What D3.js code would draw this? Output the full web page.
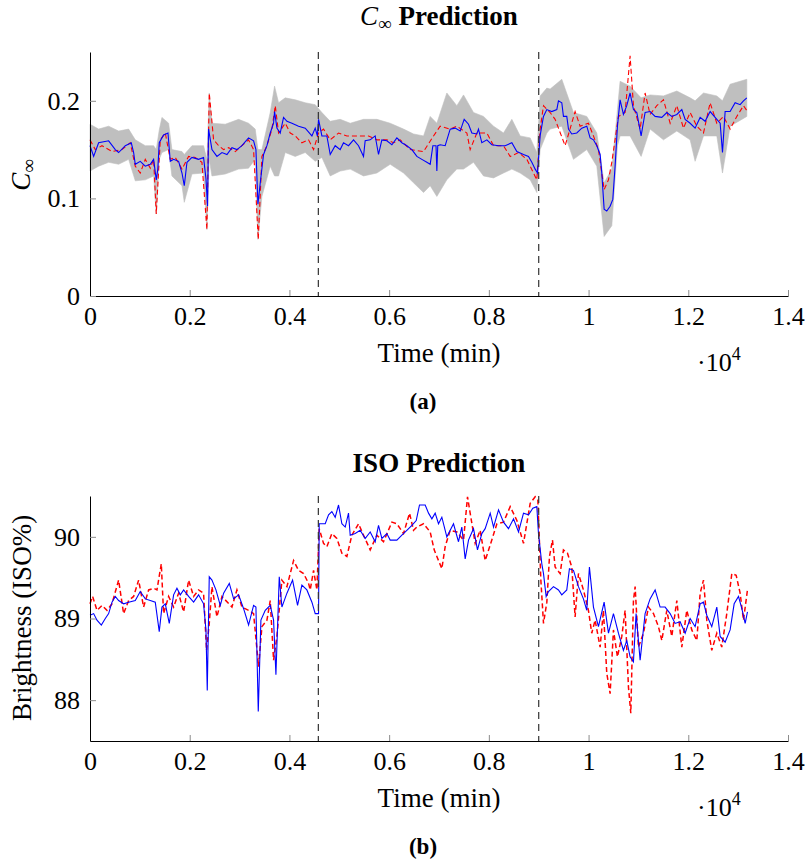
<!DOCTYPE html>
<html>
<head>
<meta charset="utf-8">
<script src="https://cdn.jsdelivr.net/npm/d3@7"></script>
<style>
  body { margin: 0; background: #fff; }
  svg, svg text, svg tspan { font-family: "Liberation Serif", "Times New Roman", serif !important; }
  svg text { fill: #000; }
  .axis .domain { stroke: #000; stroke-width: 1; }
  .axis .tick line { stroke: #8c8c8c; stroke-width: 1; }
  .axis .tick text { font-size: 26px; }
</style>
</head>
<body>
<svg width="808" height="861"></svg>
<script>
// ---- data (time in minutes) ----
var switchTimes = [4580, 9000];

var xTicks = [0, 2000, 4000, 6000, 8000, 10000, 12000, 14000];
var xTickLabels = ["0", "0.2", "0.4", "0.6", "0.8", "1", "1.2", "1.4"];
var cinfTicks = [0, 0.1, 0.2];
var cinfTickLabels = ["0", "0.1", "0.2"];
var isoTicks = [88, 89, 90];
var isoTickLabels = ["88", "89", "90"];

// C-infinity: grey band [t, lower, upper]
var cinfBand = [[0,0.128,0.176],[173,0.133,0.171],[374,0.137,0.174],[574,0.135,0.169],[775,0.140,0.171],[908,0.118,0.160],[1109,0.119,0.154],[1276,0.123,0.154],[1329,0.084,0.150],[1389,0.140,0.170],[1443,0.147,0.183],[1577,0.150,0.177],[1643,0.123,0.150],[1845,0.113,0.148],[1891,0.096,0.145],[2045,0.125,0.154],[2278,0.126,0.154],[2345,0.068,0.140],[2392,0.140,0.208],[2446,0.123,0.177],[2713,0.125,0.176],[2981,0.130,0.181],[3180,0.131,0.177],[3314,0.140,0.171],[3368,0.058,0.150],[3448,0.102,0.150],[3615,0.133,0.188],[3702,0.123,0.215],[3782,0.123,0.198],[3916,0.147,0.203],[4116,0.143,0.201],[4317,0.147,0.198],[4517,0.138,0.196],[4651,0.142,0.188],[4818,0.123,0.179],[5018,0.128,0.181],[5219,0.130,0.177],[5486,0.123,0.181],[5754,0.126,0.181],[6021,0.135,0.177],[6289,0.126,0.171],[6489,0.116,0.166],[6690,0.106,0.164],[6823,0.113,0.184],[6957,0.102,0.177],[7157,0.119,0.208],[7358,0.130,0.195],[7492,0.130,0.206],[7692,0.137,0.188],[7893,0.123,0.184],[8094,0.121,0.174],[8294,0.126,0.167],[8461,0.130,0.181],[8628,0.126,0.164],[8829,0.119,0.162],[8962,0.106,0.147],[9029,0.150,0.205],[9163,0.167,0.213],[9229,0.171,0.212],[9463,0.174,0.222],[9697,0.140,0.188],[9964,0.150,0.184],[10165,0.133,0.167],[10312,0.061,0.116],[10466,0.072,0.130],[10579,0.154,0.191],[10632,0.164,0.220],[10833,0.164,0.215],[11054,0.143,0.203],[11234,0.171,0.206],[11502,0.160,0.205],[11770,0.169,0.210],[12037,0.160,0.203],[12137,0.138,0.200],[12305,0.164,0.208],[12572,0.164,0.205],[12686,0.126,0.200],[12839,0.174,0.217],[13174,0.184,0.222]];

// C-infinity: predicted (blue)
var cinfPred = [[0,0.154],[73,0.143],[173,0.157],[374,0.159],[507,0.150],[574,0.147],[708,0.154],[828,0.157],[875,0.147],[908,0.135],[1008,0.138],[1109,0.133],[1209,0.135],[1276,0.140],[1329,0.119],[1360,0.130],[1389,0.157],[1476,0.165],[1564,0.167],[1610,0.138],[1677,0.140],[1777,0.138],[1845,0.126],[1891,0.113],[1945,0.137],[2045,0.142],[2178,0.140],[2278,0.142],[2326,0.120],[2358,0.092],[2378,0.171],[2446,0.150],[2546,0.143],[2647,0.147],[2747,0.145],[2847,0.152],[2947,0.150],[3047,0.154],[3180,0.162],[3281,0.159],[3328,0.150],[3368,0.094],[3415,0.116],[3481,0.145],[3549,0.154],[3615,0.167],[3682,0.177],[3702,0.189],[3749,0.172],[3815,0.167],[3882,0.183],[3950,0.179],[4050,0.177],[4183,0.174],[4317,0.172],[4451,0.164],[4517,0.172],[4560,0.164],[4584,0.181],[4651,0.164],[4751,0.164],[4818,0.145],[4918,0.154],[5018,0.150],[5085,0.157],[5185,0.154],[5286,0.160],[5386,0.154],[5486,0.143],[5519,0.159],[5620,0.160],[5720,0.164],[5787,0.145],[5854,0.160],[5954,0.159],[6055,0.155],[6155,0.162],[6255,0.157],[6355,0.154],[6456,0.150],[6556,0.143],[6656,0.140],[6756,0.137],[6823,0.135],[6877,0.154],[6940,0.154],[6957,0.128],[6975,0.154],[7024,0.155],[7124,0.154],[7224,0.171],[7324,0.172],[7425,0.169],[7505,0.181],[7592,0.176],[7659,0.167],[7759,0.166],[7792,0.171],[7859,0.157],[7960,0.160],[8060,0.155],[8194,0.154],[8327,0.154],[8461,0.157],[8561,0.148],[8695,0.145],[8795,0.143],[8862,0.137],[8929,0.130],[8975,0.126],[9028,0.164],[9095,0.184],[9162,0.191],[9262,0.189],[9363,0.191],[9396,0.200],[9463,0.198],[9496,0.184],[9563,0.184],[9597,0.171],[9663,0.166],[9764,0.167],[9864,0.172],[9964,0.174],[10031,0.162],[10098,0.160],[10165,0.154],[10232,0.145],[10265,0.126],[10312,0.089],[10365,0.087],[10432,0.092],[10486,0.099],[10532,0.133],[10579,0.174],[10632,0.201],[10699,0.186],[10766,0.195],[10833,0.208],[10900,0.191],[10967,0.188],[11054,0.164],[11134,0.188],[11234,0.189],[11335,0.184],[11469,0.183],[11569,0.188],[11669,0.184],[11770,0.186],[11870,0.191],[11937,0.181],[12037,0.177],[12137,0.172],[12238,0.183],[12338,0.179],[12438,0.189],[12538,0.183],[12639,0.177],[12686,0.147],[12739,0.189],[12839,0.189],[12940,0.198],[13040,0.196],[13107,0.200],[13174,0.203]];

// C-infinity: measured (red dashed)
var cinfMeas = [[0,0.160],[106,0.150],[240,0.154],[441,0.148],[641,0.150],[808,0.157],[908,0.133],[1008,0.126],[1109,0.140],[1209,0.131],[1276,0.140],[1329,0.084],[1410,0.160],[1510,0.167],[1610,0.140],[1710,0.142],[1845,0.130],[1978,0.143],[2111,0.142],[2245,0.137],[2345,0.068],[2392,0.208],[2479,0.160],[2580,0.154],[2680,0.150],[2780,0.152],[2914,0.148],[3047,0.154],[3180,0.160],[3281,0.150],[3375,0.058],[3448,0.143],[3549,0.154],[3649,0.171],[3716,0.195],[3782,0.167],[3916,0.177],[4016,0.167],[4116,0.164],[4250,0.157],[4384,0.160],[4484,0.150],[4584,0.167],[4684,0.171],[4818,0.160],[4985,0.167],[5152,0.164],[5286,0.164],[5587,0.164],[5754,0.160],[5954,0.160],[6088,0.157],[6222,0.160],[6423,0.150],[6690,0.148],[6890,0.164],[7024,0.174],[7224,0.171],[7358,0.174],[7559,0.167],[7625,0.150],[7759,0.167],[7960,0.167],[8094,0.154],[8294,0.154],[8428,0.143],[8595,0.147],[8762,0.140],[8895,0.126],[8962,0.119],[9029,0.171],[9096,0.195],[9229,0.188],[9329,0.181],[9530,0.154],[9730,0.189],[9830,0.174],[9997,0.177],[10098,0.164],[10198,0.150],[10312,0.109],[10399,0.119],[10466,0.137],[10599,0.184],[10733,0.188],[10833,0.246],[10900,0.195],[11034,0.171],[11134,0.208],[11234,0.186],[11368,0.195],[11502,0.201],[11636,0.177],[11770,0.195],[11903,0.172],[12037,0.188],[12171,0.174],[12305,0.167],[12438,0.198],[12572,0.177],[12706,0.184],[12839,0.171],[12973,0.184],[13107,0.195],[13187,0.189]];

// ISO brightness: predicted (blue)
var isoPred = [[0,89.04],[73,89.06],[140,88.98],[227,88.92],[307,89.00],[374,89.06],[441,89.20],[507,89.27],[574,89.22],[674,89.18],[775,89.20],[908,89.22],[1008,89.33],[1109,89.24],[1209,89.22],[1309,89.20],[1389,88.84],[1443,89.14],[1510,89.18],[1590,88.94],[1677,89.29],[1744,89.37],[1811,89.29],[1878,89.35],[1978,89.27],[2078,89.20],[2178,89.29],[2278,89.18],[2326,88.86],[2352,88.12],[2392,89.51],[2446,89.47],[2526,89.35],[2613,89.16],[2680,89.31],[2794,89.43],[2881,89.24],[2981,89.29],[3081,89.12],[3181,88.92],[3281,89.16],[3328,89.14],[3375,87.86],[3428,88.98],[3515,89.10],[3615,89.16],[3682,88.98],[3729,88.31],[3796,89.51],[3849,89.14],[3950,89.31],[4063,89.47],[4163,89.16],[4250,89.41],[4350,89.35],[4451,89.20],[4517,89.06],[4584,89.06],[4597,90.16],[4718,90.16],[4785,90.27],[4851,90.31],[4918,90.24],[4985,90.39],[5052,90.16],[5119,90.12],[5185,90.29],[5219,90.02],[5319,90.04],[5419,90.08],[5519,89.98],[5620,90.06],[5720,89.94],[5787,90.14],[5854,89.98],[5954,90.04],[6021,89.96],[6155,89.96],[6255,90.02],[6355,90.08],[6456,90.14],[6543,90.20],[6609,90.39],[6723,90.39],[6790,90.29],[6857,90.22],[6923,90.29],[6990,90.16],[7057,90.24],[7157,90.00],[7291,90.16],[7391,89.94],[7458,90.12],[7525,89.73],[7592,89.96],[7692,90.10],[7772,89.84],[7859,90.04],[7926,90.10],[8027,90.29],[8094,90.12],[8194,90.33],[8294,90.18],[8394,90.10],[8495,90.22],[8595,90.06],[8695,90.29],[8795,90.27],[8882,90.35],[8962,90.37],[8995,90.04],[9062,89.67],[9096,89.55],[9149,89.27],[9196,89.33],[9296,89.39],[9396,89.35],[9463,89.29],[9563,89.35],[9616,89.61],[9697,89.59],[9797,89.39],[9897,89.24],[9964,89.10],[10017,89.63],[10098,89.14],[10198,88.90],[10312,89.20],[10399,88.82],[10499,89.06],[10599,88.82],[10699,88.61],[10766,88.73],[10833,88.53],[10900,88.47],[10953,89.06],[11034,88.49],[11134,89.06],[11234,89.24],[11335,89.35],[11435,89.14],[11535,89.14],[11636,89.06],[11736,88.94],[11836,88.96],[11937,88.82],[12037,89.00],[12137,88.90],[12238,89.18],[12304,89.20],[12371,89.04],[12471,88.90],[12572,89.14],[12639,88.78],[12739,88.71],[12839,88.86],[12920,89.18],[13007,89.27],[13074,89.12],[13141,88.94],[13187,89.08]];

// ISO brightness: measured (red dashed)
var isoMeas = [[0,89.18],[53,89.27],[140,89.10],[240,89.16],[340,89.10],[441,89.18],[574,89.47],[674,89.06],[775,89.22],[875,89.27],[975,89.47],[1075,89.14],[1176,89.35],[1276,89.37],[1343,89.35],[1430,89.67],[1476,89.06],[1577,89.27],[1677,89.14],[1777,89.31],[1878,89.08],[1978,89.47],[2078,89.27],[2178,89.35],[2278,89.31],[2338,88.61],[2392,88.94],[2446,89.39],[2546,89.02],[2647,89.27],[2847,89.14],[2947,89.35],[3047,89.14],[3181,89.10],[3281,89.06],[3381,88.41],[3448,88.90],[3549,88.98],[3615,89.22],[3682,88.49],[3749,88.78],[3849,89.47],[3950,89.39],[4083,89.71],[4183,89.59],[4284,89.55],[4384,89.43],[4417,89.35],[4484,89.59],[4551,89.35],[4597,90.10],[4684,89.92],[4751,89.88],[4851,90.04],[4951,89.98],[5052,89.80],[5152,89.76],[5252,90.02],[5386,90.16],[5486,90.02],[5620,89.84],[5754,90.02],[5887,89.94],[6055,90.18],[6155,90.16],[6289,90.04],[6409,90.29],[6489,90.08],[6556,90.12],[6690,90.16],[6823,90.06],[6904,89.84],[6990,89.71],[7057,89.61],[7124,89.88],[7224,90.08],[7358,90.06],[7492,89.96],[7572,90.49],[7625,90.29],[7726,89.92],[7826,90.08],[7926,89.71],[8027,89.90],[8161,90.16],[8294,90.18],[8428,90.37],[8562,90.20],[8695,89.92],[8829,90.41],[8929,90.49],[8983,90.45],[9043,89.47],[9096,88.94],[9163,89.20],[9216,89.76],[9276,89.96],[9329,89.63],[9430,89.55],[9496,89.84],[9577,89.80],[9663,89.63],[9730,89.02],[9797,89.55],[9897,89.35],[9997,89.10],[10064,88.82],[10131,88.98],[10232,88.65],[10298,89.10],[10365,88.33],[10432,88.08],[10499,88.86],[10579,88.53],[10666,88.78],[10733,89.10],[10800,88.16],[10847,87.84],[10900,89.22],[10934,89.39],[11000,88.65],[11101,88.82],[11201,89.14],[11302,89.06],[11402,88.90],[11469,88.73],[11569,89.10],[11669,88.78],[11770,89.22],[11870,88.65],[11970,89.10],[12070,88.86],[12171,88.73],[12238,89.31],[12305,89.47],[12371,88.98],[12471,88.61],[12572,88.82],[12672,88.65],[12772,89.06],[12873,89.55],[12960,89.53],[13040,89.31],[13107,88.98],[13187,89.35]];

var FONT = '"Liberation Serif", "Times New Roman", serif';
var svg = d3.select('svg');
var x = d3.scaleLinear().domain([0, 14000]).range([90, 788]);

// one panel: axes, band, lines, switch markers, texts
function drawPanel(opt){
	var g = svg.append('g');
	var y = d3.scaleLinear().domain(opt.yDomain).range([opt.bottom, opt.top]);

	if (opt.band) {
		var area = d3.area()
			.x(function(d){ return x(d[0]); })
			.y0(function(d){ return y(d[1]); })
			.y1(function(d){ return y(d[2]); });
		g.append('path').datum(opt.band)
			.attr('d', area)
			.attr('fill', '#bfbfbf')
			.attr('stroke', '#bfbfbf')
			.attr('stroke-width', 0.6);
	}

	var line = d3.line()
		.x(function(d){ return x(d[0]); })
		.y(function(d){ return y(d[1]); });

	g.append('path').datum(opt.meas)
		.attr('d', line)
		.attr('fill', 'none')
		.attr('stroke', '#ff0000')
		.attr('stroke-width', opt.redWidth)
		.attr('stroke-dasharray', '5,3');

	g.append('path').datum(opt.pred)
		.attr('d', line)
		.attr('fill', 'none')
		.attr('stroke', '#0000ff')
		.attr('stroke-width', 1.1);

	// switch markers
	g.selectAll('line.switch')
		.data(switchTimes)
		.enter()
		.append('line')
		.attr('class', 'switch')
		.attr('x1', function(d){ return x(d); })
		.attr('x2', function(d){ return x(d); })
		.attr('y1', opt.top)
		.attr('y2', opt.bottom)
		.attr('stroke', '#333')
		.attr('stroke-width', 1.2)
		.attr('stroke-dasharray', '7,5');

	var xAxis = d3.axisBottom(x)
		.tickValues(xTicks)
		.tickFormat(function(d, i){ return xTickLabels[i]; })
		.tickSize(-6)
		.tickSizeOuter(0)
		.tickPadding(11);
	g.append('g').attr('class', 'axis')
		.attr('transform', 'translate(0,' + opt.bottom + ')')
		.call(xAxis)
		.attr('font-family', FONT);

	var yAxis = d3.axisLeft(y)
		.tickValues(opt.yTicks)
		.tickFormat(function(d, i){ return opt.yTickLabels[i]; })
		.tickSize(-6)
		.tickSizeOuter(0)
		.tickPadding(10);
	g.append('g').attr('class', 'axis')
		.attr('transform', 'translate(90,0)')
		.call(yAxis)
		.attr('font-family', FONT);

	// x label and exponent
	g.append('text')
		.attr('x', 439).attr('y', opt.bottom + 66)
		.attr('text-anchor', 'middle')
		.attr('font-size', 27)
		.text('Time (min)');
	var ex = g.append('text')
		.attr('x', 697).attr('y', opt.bottom + 75)
		.attr('font-size', 26);
	ex.append('tspan').text('\u00b710');
	ex.append('tspan').attr('dy', -11).attr('font-size', 18).text('4');

	// caption
	g.append('text')
		.attr('x', 423).attr('y', opt.bottom + 113)
		.attr('text-anchor', 'middle')
		.attr('font-size', 23)
		.attr('font-weight', 'bold')
		.text(opt.caption);

	return y;
}

drawPanel({
	top: 52, bottom: 296, yDomain: [0, 0.25],
	yTicks: cinfTicks, yTickLabels: cinfTickLabels,
	band: cinfBand, pred: cinfPred, meas: cinfMeas,
	redWidth: 1.1, caption: '(a)'
});

drawPanel({
	top: 496, bottom: 741, yDomain: [87.5, 90.5],
	yTicks: isoTicks, yTickLabels: isoTickLabels,
	band: null, pred: isoPred, meas: isoMeas,
	redWidth: 1.5, caption: '(b)'
});

// titles
var t1 = svg.append('text')
	.attr('x', 439).attr('y', 25)
	.attr('text-anchor', 'middle')
	.attr('font-size', 27);
t1.append('tspan').attr('font-style', 'italic').text('C');
t1.append('tspan').attr('dy', 5).attr('font-size', 19).text('\u221e');
t1.append('tspan').attr('dy', -5).attr('font-weight', 'bold').text(' Prediction');

svg.append('text')
	.attr('x', 439).attr('y', 472)
	.attr('text-anchor', 'middle')
	.attr('font-size', 27)
	.attr('font-weight', 'bold')
	.text('ISO Prediction');

// y labels
var yl1 = svg.append('text')
	.attr('transform', 'translate(30,175) rotate(-90)')
	.attr('text-anchor', 'middle')
	.attr('font-size', 27);
yl1.append('tspan').attr('font-style', 'italic').text('C');
yl1.append('tspan').attr('dy', 5).attr('font-size', 19).text('\u221e');

svg.append('text')
	.attr('transform', 'translate(31,618) rotate(-90)')
	.attr('text-anchor', 'middle')
	.attr('font-size', 27)
	.text('Brightness (ISO%)');
</script>
</body>
</html>
